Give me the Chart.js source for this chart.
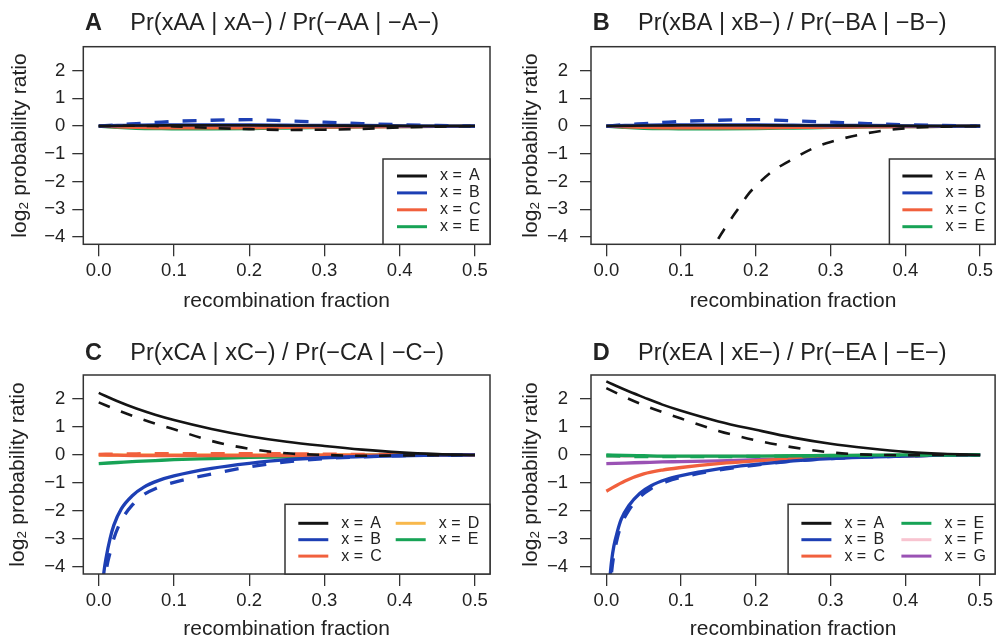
<!DOCTYPE html>
<html><head><meta charset="utf-8">
<script src="https://cdn.jsdelivr.net/npm/chart.js@4.4.1/dist/chart.umd.min.js"></script>
<style>
html,body{margin:0;padding:0;background:#fff;}
#wrap{position:relative;width:997px;height:642px;overflow:hidden;background:#fff;}
canvas{position:absolute;}
</style></head><body>
<div id="wrap">
<canvas id="cA" width="498" height="320" style="left:0;top:0"></canvas>
<canvas id="cB" width="499" height="320" style="left:498px;top:0"></canvas>
<canvas id="cC" width="498" height="322" style="left:0;top:320px"></canvas>
<canvas id="cD" width="499" height="322" style="left:498px;top:320px"></canvas>
</div>
<script>
// ---------- data ----------
const xTicks = [0, 0.1, 0.2, 0.3, 0.4, 0.5];
const yTicks = [-4, -3, -2, -1, 0, 1, 2];
const rGrid  = [0, 0.025, 0.05, 0.075, 0.1, 0.15, 0.2, 0.25, 0.3, 0.35, 0.4, 0.45, 0.5];
const rNear0 = [0.004, 0.007, 0.01, 0.015, 0.02, 0.03, 0.045, 0.06, 0.08, 0.1, 0.15, 0.2, 0.25, 0.3, 0.35, 0.4, 0.45, 0.5];
const rSteepB = [0.12, 0.14, 0.15, 0.16, 0.175, 0.19, 0.2, 0.22, 0.25, 0.28, 0.3, 0.35, 0.4, 0.45, 0.5];

// Panel A
const aA     = [0, 0.01, 0.02, 0.02, 0.03, 0.03, 0.03, 0.02, 0.02, 0.01, 0.01, 0, 0];
const aAdash = [0, 0.01, 0.01, 0.0, -0.01, -0.07, -0.11, -0.14, -0.13, -0.1, -0.05, -0.02, 0];
const aB     = [0, 0.02, 0.03, 0.04, 0.04, 0.04, 0.04, 0.03, 0.02, 0.02, 0.01, 0, 0];
const aBdash = [0, 0.05, 0.09, 0.13, 0.17, 0.21, 0.23, 0.19, 0.14, 0.09, 0.05, 0.02, 0];
const aC     = [0, -0.03, -0.05, -0.06, -0.06, -0.06, -0.06, -0.05, -0.04, -0.03, -0.02, -0.01, 0];
const aE     = [0, -0.05, -0.08, -0.09, -0.1, -0.1, -0.09, -0.07, -0.05, -0.03, -0.02, -0.01, 0];

// Panel B
const bA     = [0, 0.01, 0.02, 0.02, 0.03, 0.03, 0.03, 0.02, 0.02, 0.01, 0.01, 0, 0];
const bAdash = [-5.6, -4.5, -4.05, -3.62, -3.03, -2.45, -2.16, -1.67, -1.18, -0.76, -0.57, -0.25, -0.08, -0.02, 0];
const bB     = [0, 0.02, 0.03, 0.04, 0.04, 0.04, 0.04, 0.03, 0.02, 0.02, 0.01, 0, 0];
const bBdash = [0, 0.05, 0.09, 0.13, 0.17, 0.21, 0.23, 0.19, 0.14, 0.09, 0.05, 0.02, 0];
const bC     = [0, -0.03, -0.05, -0.06, -0.06, -0.06, -0.06, -0.05, -0.04, -0.03, -0.02, -0.01, 0];
const bE     = [0, -0.05, -0.08, -0.09, -0.1, -0.1, -0.09, -0.07, -0.05, -0.03, -0.02, -0.01, 0];

// Panel C
const cA     = [2.22, 1.92, 1.66, 1.44, 1.25, 0.93, 0.67, 0.47, 0.32, 0.19, 0.09, 0.03, 0];
const cAdash = [1.88, 1.6, 1.35, 1.12, 0.92, 0.5, 0.22, 0.06, 0.0, -0.03, -0.02, -0.01, 0];
const cB     = [-5.0, -4.17, -3.65, -3.0, -2.52, -1.93, -1.45, -1.15, -0.91, -0.75, -0.48, -0.3, -0.17, -0.1, -0.06, -0.03, -0.01, 0];
const cBdash = [-6.0, -5.0, -4.15, -3.5, -3.0, -2.35, -1.78, -1.42, -1.15, -0.98, -0.68, -0.43, -0.25, -0.13, -0.07, -0.03, -0.01, 0];
const cC     = [0, -0.01, -0.02, -0.02, -0.02, -0.02, -0.02, -0.02, -0.01, -0.01, 0, 0, 0];
const cCdash = [0.02, 0.03, 0.04, 0.05, 0.05, 0.05, 0.05, 0.04, 0.03, 0.02, 0.01, 0, 0];
const cD     = [-0.01, -0.01, -0.01, -0.01, -0.01, -0.01, -0.01, -0.01, 0, 0, 0, 0, 0];
const cE     = [-0.31, -0.27, -0.23, -0.2, -0.17, -0.13, -0.09, -0.07, -0.04, -0.02, -0.01, 0, 0];

// Panel D
const dA     = [2.63, 2.33, 2.06, 1.8, 1.58, 1.2, 0.9, 0.62, 0.4, 0.24, 0.11, 0.04, 0];
const dAdash = [2.39, 2.07, 1.78, 1.53, 1.3, 0.86, 0.52, 0.27, 0.09, 0.01, -0.01, 0, 0];
const dB     = [-4.6, -3.8, -3.27, -2.72, -2.3, -1.82, -1.37, -1.1, -0.88, -0.74, -0.5, -0.34, -0.21, -0.13, -0.08, -0.04, -0.01, 0];
const dBdash = [-5.2, -4.2, -3.6, -2.95, -2.5, -1.98, -1.5, -1.2, -0.96, -0.8, -0.54, -0.36, -0.22, -0.13, -0.08, -0.04, -0.01, 0];
const dC     = [-1.3, -0.93, -0.68, -0.54, -0.45, -0.31, -0.21, -0.14, -0.09, -0.05, -0.03, -0.01, 0];
const dE     = [0, -0.02, -0.03, -0.04, -0.04, -0.04, -0.04, -0.03, -0.02, -0.01, 0, 0, 0];
const dEdash = [-0.03, -0.05, -0.06, -0.06, -0.06, -0.06, -0.05, -0.04, -0.03, -0.02, -0.01, 0, 0];
const dF     = [-0.05, -0.05, -0.05, -0.05, -0.05, -0.04, -0.04, -0.03, -0.02, -0.01, -0.01, 0, 0];
const dG     = [-0.31, -0.29, -0.27, -0.25, -0.24, -0.21, -0.17, -0.13, -0.09, -0.05, -0.03, -0.01, 0];

const legendA = ['A', 'B', 'C', 'E'];
const legendB = ['A', 'B', 'C', 'E'];
const legendC = ['A', 'B', 'C', 'D', 'E'];
const legendD = ['A', 'B', 'C', 'E', 'F', 'G'];

// ---------- styling ----------
const FONT = "'Liberation Sans', Arial, Helvetica, sans-serif";
Chart.defaults.font.family = FONT;
const COLORS = {A:'#141414', B:'#1d3fb4', C:'#f1603d', D:'#f8b84c', E:'#17a356', F:'#f8c4d0', G:'#9a52b4'};
const TXT = '#222';

const pts = (xs, ys) => xs.map((x, i) => ({x: x, y: ys[i]}));
const minusFmt = v => v < 0 ? '\u2212' + Math.abs(v) : String(v);

const decor = {
  id: 'decor',
  afterDatasetsDraw(chart, args, o) {
    const {ctx, chartArea: a} = chart;
    ctx.save();
    ctx.setLineDash([]);
    ctx.strokeStyle = '#333'; ctx.lineWidth = 1.5;
    ctx.strokeRect(a.left, a.top, a.right - a.left, a.bottom - a.top);
    const L = o.legend;
    const lx = a.right - L.w, ly = a.bottom - L.h;
    ctx.fillStyle = '#fff';
    ctx.fillRect(lx, ly, L.w, L.h);
    ctx.strokeRect(lx, ly, L.w, L.h);
    L.keys.forEach((k, i) => {
      const col = Math.floor(i / L.rows), row = i % L.rows;
      const x0 = lx + L.colX[col], y = ly + L.y0 + row * L.dy;
      ctx.strokeStyle = COLORS[k]; ctx.lineWidth = 3;
      ctx.beginPath(); ctx.moveTo(x0, y); ctx.lineTo(x0 + 30, y); ctx.stroke();
      ctx.fillStyle = TXT; ctx.font = '16px ' + FONT;
      ctx.textBaseline = 'middle'; ctx.textAlign = 'left';
      ctx.fillText('x =', x0 + 43, y);
      ctx.fillText(k, x0 + 72, y);
    });
    ctx.fillStyle = TXT; ctx.textBaseline = 'alphabetic'; ctx.textAlign = 'left';
    ctx.font = 'bold 23.5px ' + FONT;
    ctx.fillText(o.letter, a.left + 1.7, o.titleY);
    ctx.font = '23.5px ' + FONT;
    ctx.fillText(o.title, a.left + 47, o.titleY);
    ctx.restore();
  }
};

function makeChart(id, p) {
  const cv = document.getElementById(id);
  const W = cv.width, H = cv.height;
  new Chart(cv, {
    type: 'line',
    data: {datasets: p.series.map(s => ({
      label: 'x = ' + s.key + (s.dash ? ' (dashed)' : ''),
      data: pts(s.xs, s.ys),
      borderColor: COLORS[s.key],
      borderWidth: s.key === 'A' ? 2.6 : 3.3,
      borderDash: s.dash ? (s.key === 'A' ? [12, 12] : [14, 14]) : [],
      pointRadius: 0, fill: false, cubicInterpolationMode: 'monotone'
    }))},
    options: {
      responsive: false, animation: false, devicePixelRatio: 1,
      layout: {padding: {left: 0, top: p.area.top, right: W - p.area.right, bottom: 0}},
      plugins: {legend: {display: false}, tooltip: {enabled: false},
        decor: {letter: p.letter, title: p.title, titleY: p.titleY, legend: p.legend}},
      scales: {
        x: {type: 'linear', min: -0.0205, max: 0.52,
          afterBuildTicks: s => { s.ticks = xTicks.map(v => ({value: v})); },
          afterFit: s => { s.height = H - p.area.bottom; },
          ticks: {callback: v => Number(v).toFixed(1), font: {size: 18.5}, color: TXT, padding: 4, maxRotation: 0, autoSkip: false},
          grid: {drawOnChartArea: false, drawTicks: true, tickLength: 12, color: '#333', lineWidth: 1.3},
          border: {display: false},
          title: {display: true, text: 'recombination fraction', font: {size: 21}, color: TXT, padding: {top: 0, bottom: p.xTitlePad}}
        },
        y: {type: 'linear', min: -4.26, max: 2.86,
          afterBuildTicks: s => { s.ticks = yTicks.map(v => ({value: v})); },
          afterFit: s => { s.width = p.area.left; },
          ticks: {callback: v => minusFmt(v), font: {size: 18.5}, color: TXT, padding: p.yTickPad, autoSkip: false},
          grid: {drawOnChartArea: false, drawTicks: true, tickLength: 11, color: '#333', lineWidth: 1.3},
          border: {display: false},
          title: {display: true, text: 'log\u2082 probability ratio', font: {size: 21}, color: TXT, padding: {top: p.yTitlePad, bottom: 0}}
        }
      }
    },
    plugins: [decor]
  });
}

makeChart('cA', {
  letter: 'A', title: 'Pr(xAA | xA\u2212) / Pr(\u2212AA | \u2212A\u2212)', titleY: 29.5,
  area: {left: 83.3, top: 46.7, right: 490, bottom: 244.3},
  yTickPad: 7, yTitlePad: 7.4, xTitlePad: 6.4,
  legend: {keys: legendA, rows: 4, w: 107, h: 85.3, colX: [14], y0: 17, dy: 16.9},
  series: [
    {key: 'A', xs: rGrid, ys: aA}, {key: 'A', xs: rGrid, ys: aAdash, dash: true},
    {key: 'B', xs: rGrid, ys: aBdash, dash: true}, {key: 'B', xs: rGrid, ys: aB},
    {key: 'C', xs: rGrid, ys: aC}, {key: 'E', xs: rGrid, ys: aE}
  ]
});
makeChart('cB', {
  letter: 'B', title: 'Pr(xBA | xB\u2212) / Pr(\u2212BA | \u2212B\u2212)', titleY: 29.5,
  area: {left: 93, top: 46.7, right: 499, bottom: 244.3},
  yTickPad: 12, yTitlePad: 20.4, xTitlePad: 6.4,
  legend: {keys: legendB, rows: 4, w: 105.7, h: 85.3, colX: [13], y0: 17, dy: 16.9},
  series: [
    {key: 'A', xs: rGrid, ys: bA}, {key: 'A', xs: rSteepB, ys: bAdash, dash: true},
    {key: 'B', xs: rGrid, ys: bBdash, dash: true}, {key: 'B', xs: rGrid, ys: bB},
    {key: 'C', xs: rGrid, ys: bC}, {key: 'E', xs: rGrid, ys: bE}
  ]
});
makeChart('cC', {
  letter: 'C', title: 'Pr(xCA | xC\u2212) / Pr(\u2212CA | \u2212C\u2212)', titleY: 39.5,
  area: {left: 83.3, top: 55, right: 490, bottom: 254},
  yTickPad: 7, yTitlePad: 5.7, xTitlePad: 0,
  legend: {keys: legendC, rows: 3, w: 205, h: 69.7, colX: [13.3, 110.7], y0: 19, dy: 16.4},
  series: [
    {key: 'A', xs: rGrid, ys: cA}, {key: 'A', xs: rGrid, ys: cAdash, dash: true},
    {key: 'B', xs: rNear0, ys: cB}, {key: 'B', xs: rNear0, ys: cBdash, dash: true},
    {key: 'C', xs: rGrid, ys: cCdash, dash: true}, {key: 'C', xs: rGrid, ys: cC},
    {key: 'E', xs: rGrid, ys: cE}, {key: 'D', xs: rGrid, ys: cD}
  ]
});
makeChart('cD', {
  letter: 'D', title: 'Pr(xEA | xE\u2212) / Pr(\u2212EA | \u2212E\u2212)', titleY: 39.5,
  area: {left: 93, top: 55, right: 499, bottom: 254},
  yTickPad: 12, yTitlePad: 20.4, xTitlePad: 0,
  legend: {keys: legendD, rows: 3, w: 207, h: 69.7, colX: [13.3, 113.3], y0: 19, dy: 16.4},
  series: [
    {key: 'A', xs: rGrid, ys: dA}, {key: 'A', xs: rGrid, ys: dAdash, dash: true},
    {key: 'E', xs: rGrid, ys: dEdash, dash: true}, {key: 'E', xs: rGrid, ys: dE},
    {key: 'B', xs: rNear0, ys: dB}, {key: 'B', xs: rNear0, ys: dBdash, dash: true},
    {key: 'C', xs: rGrid, ys: dC}, {key: 'G', xs: rGrid, ys: dG}, {key: 'F', xs: rGrid, ys: dF}
  ]
});
</script>
</body></html>
